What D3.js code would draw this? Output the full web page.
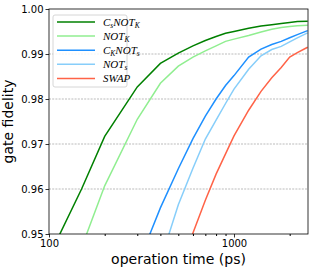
<!DOCTYPE html>
<html>
<head>
<meta charset="utf-8">
<script src="https://cdn.jsdelivr.net/npm/d3@7"></script>
<style>
  body { margin: 0; background: #fff; }
  svg { display: block; font-family: "DejaVu Sans", sans-serif; }
</style>
</head>
<body>
<div id="chart"></div>
<script>
// DATA (operation time in ps, gate fidelity)
const times = [100, 150, 200, 300, 400, 500, 600, 700, 800, 900, 1000, 1200, 1400, 1600, 1800, 2000, 2200, 2500];
const csnotk = [0.945, 0.960, 0.9717, 0.9827, 0.9879, 0.9902, 0.9918, 0.9930, 0.9939, 0.9946, 0.9950, 0.9957, 0.9962, 0.9965, 0.9968, 0.9970, 0.9972, 0.9973];
const notk = [null, 0.947, 0.9607, 0.9755, 0.9835, 0.9873, 0.9893, 0.9907, 0.9918, 0.9928, 0.9933, 0.9941, 0.9949, 0.9955, 0.9959, 0.9961, 0.9963, 0.9964];
const cknots = [null, null, null, 0.943, 0.9558, 0.9645, 0.9712, 0.9762, 0.9800, 0.9830, 0.9852, 0.9893, 0.9911, 0.9921, 0.9928, 0.9936, 0.9943, 0.9952];
const nots = [null, null, null, null, 0.944, 0.9565, 0.9646, 0.9711, 0.9753, 0.9790, 0.9822, 0.9866, 0.9896, 0.9910, 0.9917, 0.9927, 0.9936, 0.9947];
const swap = [null, null, null, null, null, 0.938, 0.9502, 0.9575, 0.9633, 0.9678, 0.9718, 0.9775, 0.9817, 0.9847, 0.9870, 0.9893, 0.9903, 0.9915];

const yTicks = [0.95, 0.96, 0.97, 0.98, 0.99, 1.00];
const yGrid = [0.96, 0.97, 0.98, 0.99];
const xMajor = [100, 1000];
const xMinor = [200, 300, 400, 500, 600, 700, 800, 900, 2000];

// label parts: [main, subscript]
const series = [
  { values: csnotk, color: "green", label: [["C", "s"], ["NOT", "K"]] },
  { values: notk, color: "lightgreen", label: [["NOT", "K"]] },
  { values: cknots, color: "dodgerblue", label: [["C", "K"], ["NOT", "s"]] },
  { values: nots, color: "lightskyblue", label: [["NOT", "s"]] },
  { values: swap, color: "tomato", label: [["SWAP", ""]] }
];

// SIZE
const W = 316, H = 271;
const margin = { top: 9, right: 8, bottom: 37, left: 49 };
const width = W - margin.left - margin.right;
const height = H - margin.top - margin.bottom;

const x = d3.scaleLog().domain([100, 2512]).range([0, width]);
const y = d3.scaleLinear().domain([0.95, 1.0]).range([height, 0]);

const svg = d3.select("#chart").append("svg")
  .attr("width", W).attr("height", H);

const g = svg.append("g")
  .attr("transform", `translate(${margin.left},${margin.top})`);

g.append("clipPath").attr("id", "clip")
  .append("rect").attr("width", width).attr("height", height);

// GRID
g.selectAll(".grid").data(yGrid).join("line")
  .attr("x1", 0).attr("x2", width)
  .attr("y1", d => y(d)).attr("y2", d => y(d))
  .attr("stroke", "#aaa").attr("stroke-width", 0.8)
  .attr("stroke-dasharray", "2,1.2");

// LINES
const line = d3.line()
  .defined(d => d[1] != null)
  .x(d => x(d[0]))
  .y(d => y(d[1]));

const lines = g.append("g").attr("clip-path", "url(#clip)");
series.forEach(s => {
  lines.append("path")
    .datum(times.map((t, i) => [t, s.values[i]]))
    .attr("d", line)
    .attr("fill", "none")
    .attr("stroke", s.color)
    .attr("stroke-width", 1.5);
});

// AXES
const yAxis = g.append("g")
  .call(d3.axisLeft(y).tickValues(yTicks).tickFormat(d3.format(".2f")).tickSize(3.5).tickPadding(2));
const xAxis = g.append("g")
  .attr("transform", `translate(0,${height})`)
  .call(d3.axisBottom(x).tickValues(xMajor).tickFormat(d3.format("d")).tickSize(3.5).tickPadding(2));
g.append("g")
  .attr("transform", `translate(0,${height})`)
  .call(d3.axisBottom(x).tickValues(xMinor).tickFormat("").tickSize(2))
  .select(".domain").remove();

[yAxis, xAxis].forEach(a => {
  a.selectAll("text").attr("font-size", 10).attr("fill", "#000").attr("font-family", "DejaVu Sans");
  a.selectAll("line").attr("stroke", "#000").attr("stroke-width", 0.8);
  a.select(".domain").remove();
});

// FRAME
g.append("rect")
  .attr("width", width).attr("height", height)
  .attr("fill", "none").attr("stroke", "#000").attr("stroke-width", 0.8);

// AXIS LABELS
svg.append("text")
  .attr("x", margin.left + width / 2).attr("y", 264)
  .attr("text-anchor", "middle").attr("font-size", 14)
  .text("operation time (ps)");

svg.append("text")
  .attr("transform", `translate(12.5,${margin.top + height / 2}) rotate(-90)`)
  .attr("text-anchor", "middle").attr("font-size", 14)
  .text("gate fidelity");

// LEGEND
const legend = g.append("g").attr("transform", "translate(4,6)");
legend.append("rect")
  .attr("width", 74).attr("height", 72).attr("rx", 2)
  .attr("fill", "#fff").attr("fill-opacity", 0.85)
  .attr("stroke", "#ccc").attr("stroke-width", 0.8);

series.forEach((s, i) => {
  const row = legend.append("g").attr("transform", `translate(0,${7 + i * 14.1})`);
  row.append("line")
    .attr("x1", 4).attr("x2", 42)
    .attr("stroke", s.color).attr("stroke-width", 1.5);
  const txt = row.append("text")
    .attr("x", 50).attr("y", 3.5)
    .attr("font-family", "Liberation Serif, serif")
    .attr("font-style", "italic").attr("font-size", 11);
  let shift = 0;
  s.label.forEach(p => {
    txt.append("tspan").attr("dy", -shift).text(p[0]);
    shift = 0;
    if (p[1]) {
      txt.append("tspan").attr("font-size", 7.5).attr("dy", 2).text(p[1]);
      shift = 2;
    }
  });
});
</script>
</body>
</html>
